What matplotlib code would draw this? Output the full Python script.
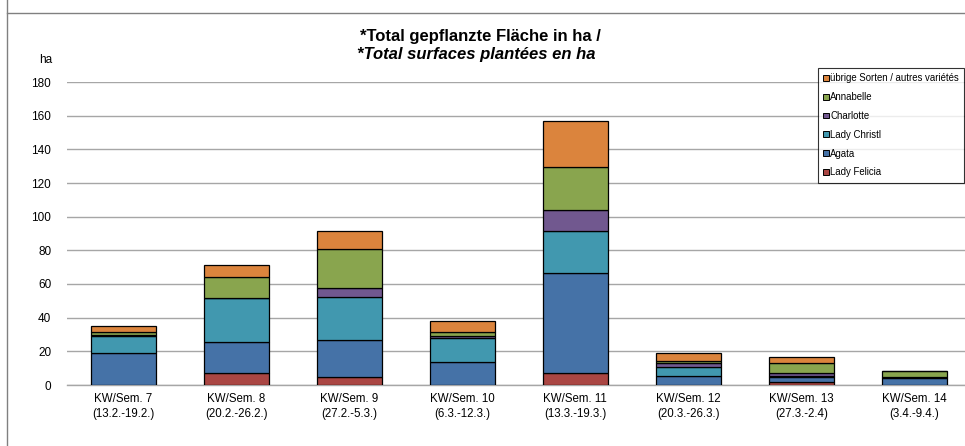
import numpy as np
import matplotlib
matplotlib.use("Agg")
import matplotlib.pyplot as plt
from matplotlib.patches import Patch
from matplotlib.lines import Line2D

plt.rcParams['font.family'] = ['Liberation Sans', 'DejaVu Sans']

# ── data ─────────────────────────────────────────────
weeks = ['KW/Sem. 7\n(13.2.-19.2.)', 'KW/Sem. 8\n(20.2.-26.2.)',
         'KW/Sem. 9\n(27.2.-5.3.)', 'KW/Sem. 10\n(6.3.-12.3.)',
         'KW/Sem. 11\n(13.3.-19.3.)', 'KW/Sem. 12\n(20.3.-26.3.)',
         'KW/Sem. 13\n(27.3.-2.4)', 'KW/Sem. 14\n(3.4.-9.4.)']

lady_felicia = [0.0, 7.1, 4.9, 0.0, 7.3, 0.0, 1.8, 0.0]
agata        = [18.8, 18.3, 21.6, 13.7, 59.1, 5.3, 3.0, 4.0]
lady_christl = [10.3, 26.1, 26.0, 14.5, 24.9, 5.6, 0.8, 0.5]
charlotte    = [0.8, 0.0, 4.9, 1.0, 12.7, 2.0, 1.7, 0.0]
annabelle    = [1.8, 12.7, 23.2, 2.2, 25.5, 1.6, 6.0, 4.0]
uebrige      = [3.4, 6.9, 10.7, 6.9, 27.4, 4.3, 3.1, 0.0]

series = [
    ('Lady Felicia', lady_felicia, '#AA4643'),
    ('Agata', agata, '#4572A7'),
    ('Lady Christl', lady_christl, '#4198AF'),
    ('Charlotte', charlotte, '#71588F'),
    ('Annabelle', annabelle, '#89A54E'),
    ('übrige Sorten / autres variétés', uebrige, '#DB843D'),
]

# ── figure ───────────────────────────────────────────
W, H = 965, 446
fig = plt.figure(figsize=(W / 100, H / 100), dpi=100)

# axes placed in pixel terms (plot area runs past the right edge, as in the source)
x0, x1 = 66.5, 971.0
y0, y1 = 385.0, 82.0
ax = fig.add_axes([x0 / W, (H - y0) / H, (x1 - x0) / W, (y0 - y1) / H])

x = np.arange(len(weeks))
bottom = np.zeros(len(weeks))
for name, vals, col in series:
    vals = np.array(vals)
    ax.bar(x, vals, width=0.575, bottom=bottom, color=col,
           edgecolor='black', linewidth=0.9, zorder=3)
    bottom += vals

ax.set_xlim(-0.5, len(weeks) - 0.5)
ax.set_ylim(0, 180)
ax.set_yticks(np.arange(0, 181, 20))
ax.yaxis.grid(True, color='#A6A6A6', linewidth=1.0, zorder=0)
ax.set_axisbelow(True)
for s in ['left', 'right', 'top']:
    ax.spines[s].set_visible(False)
ax.spines['bottom'].set_color('#A6A6A6')
ax.spines['bottom'].set_linewidth(1.0)
ax.tick_params(axis='y', length=0, labelsize=8.5, pad=11)
ax.tick_params(axis='x', length=0, labelsize=8.3, pad=6)
ax.set_xticks(x)
ax.set_xticklabels(weeks, linespacing=1.35)

# titles
fig.text(480 / W, 1 - 37 / H, '*Total gepflanzte Fläche in ha /',
         ha='center', va='center', fontsize=12, fontweight='bold')
fig.text(476 / W, 1 - 54 / H, '*Total surfaces plantées en ha',
         ha='center', va='center', fontsize=12, fontweight='bold',
         style='italic')
fig.text(46 / W, 1 - 60 / H, 'ha', ha='center', va='center', fontsize=8.5)

# frame lines of the cropped chart object
fig.add_artist(Line2D([6.5 / W, 6.5 / W], [0, 1], color='#808080', lw=1.0))
fig.add_artist(Line2D([6.5 / W, 1], [1 - 12.5 / H, 1 - 12.5 / H],
                      color='#808080', lw=1.0))

# legend (top entry = top of stack)
handles = [Patch(facecolor=c, edgecolor='black', linewidth=0.7)
           for _, _, c in reversed(series)]
labels = [n for n, _, _ in reversed(series)]
leg = fig.legend(handles, labels, loc='upper left',
                 bbox_to_anchor=(818 / W, 1 - 68 / H),
                 fontsize=6.9, frameon=True, fancybox=False,
                 edgecolor='black', handlelength=0.55, handleheight=0.55,
                 handletextpad=0.2, labelspacing=0.92, borderpad=0.55,
                 borderaxespad=0)
leg.get_frame().set_linewidth(0.8)

fig.savefig('out.png', dpi=100)
